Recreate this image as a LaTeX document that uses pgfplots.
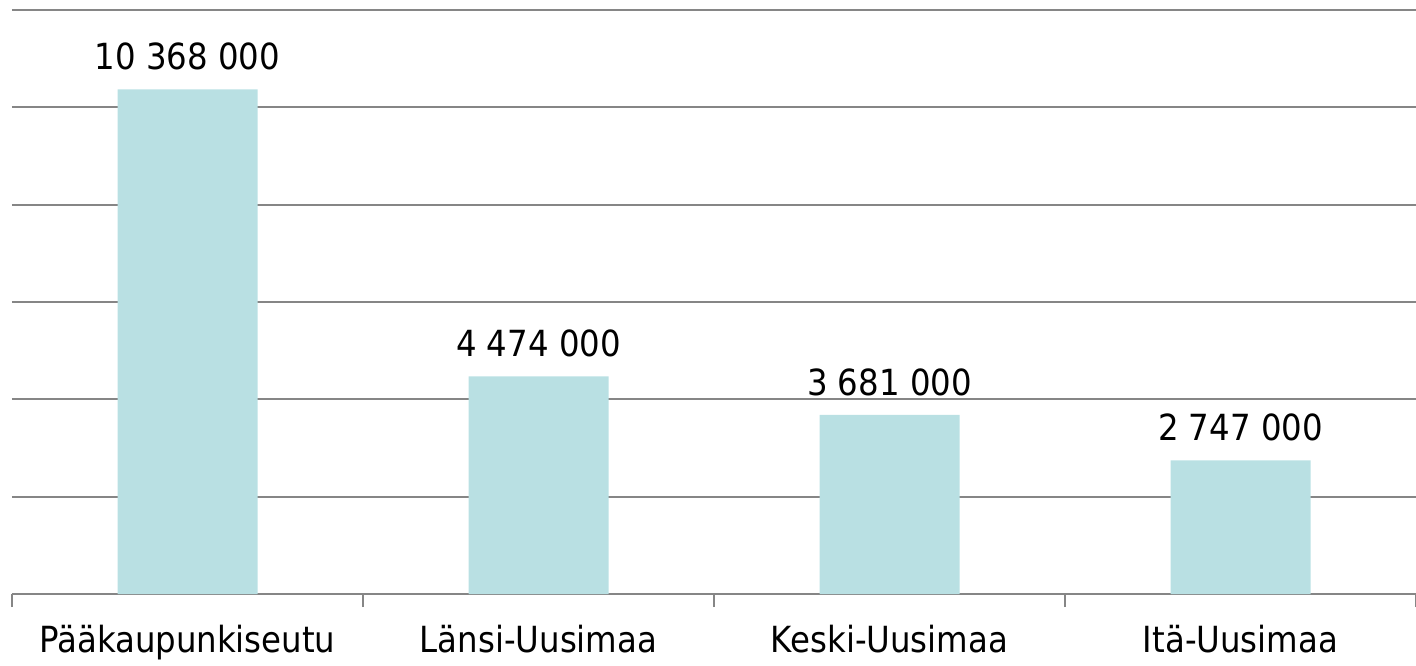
\documentclass[border=0pt]{standalone}
\usepackage{fontspec}
\setmainfont{DejaVu Sans Condensed}
\usepackage{pgfplots}
\pgfplotsset{compat=1.18}
\definecolor{barc}{RGB}{185,224,227}
\definecolor{gridc}{RGB}{134,134,134}
\begin{document}
\begin{tikzpicture}
\path[use as bounding box] (-12pt,-71pt) rectangle (1404pt,594pt);
\begin{axis}[
  at={(0pt,0pt)}, anchor=south west,
  scale only axis, width=1404pt, height=584pt,
  xmin=-0.5, xmax=3.5, ymin=0, ymax=12000000,
  axis line style={draw=none},
  ytick={0,2000000,4000000,6000000,8000000,10000000,12000000},
  yticklabels={},
  major tick length=0pt,
  ymajorgrids,
  grid style={gridc, line width=2pt},
  xtick={0,1,2,3},
  xticklabels={Pääkaupunkiseutu,Länsi-Uusimaa,Keski-Uusimaa,Itä-Uusimaa},
  minor xtick={-0.5,0.5,1.5,2.5,3.5},
  minor tick length=13pt,
  xtick align=outside,
  xtick pos=bottom,
  minor x tick style={gridc, line width=2pt},
  xticklabel style={font=\fontsize{36}{40}\selectfont, anchor=base, yshift=-58pt},
  ybar, bar width=140pt,
  point meta=explicit symbolic,
  nodes near coords,
  every node near coord/.append style={font=\fontsize{36}{40}\selectfont, inner sep=0pt, yshift=19pt},
  clip=false,
]
\addplot[fill=barc, draw=none] coordinates {
  (0,10368000) [10 368 000]
  (1,4474000) [4 474 000]
  (2,3681000) [3 681 000]
  (3,2747000) [2 747 000]
};
\end{axis}
\end{tikzpicture}
\end{document}
